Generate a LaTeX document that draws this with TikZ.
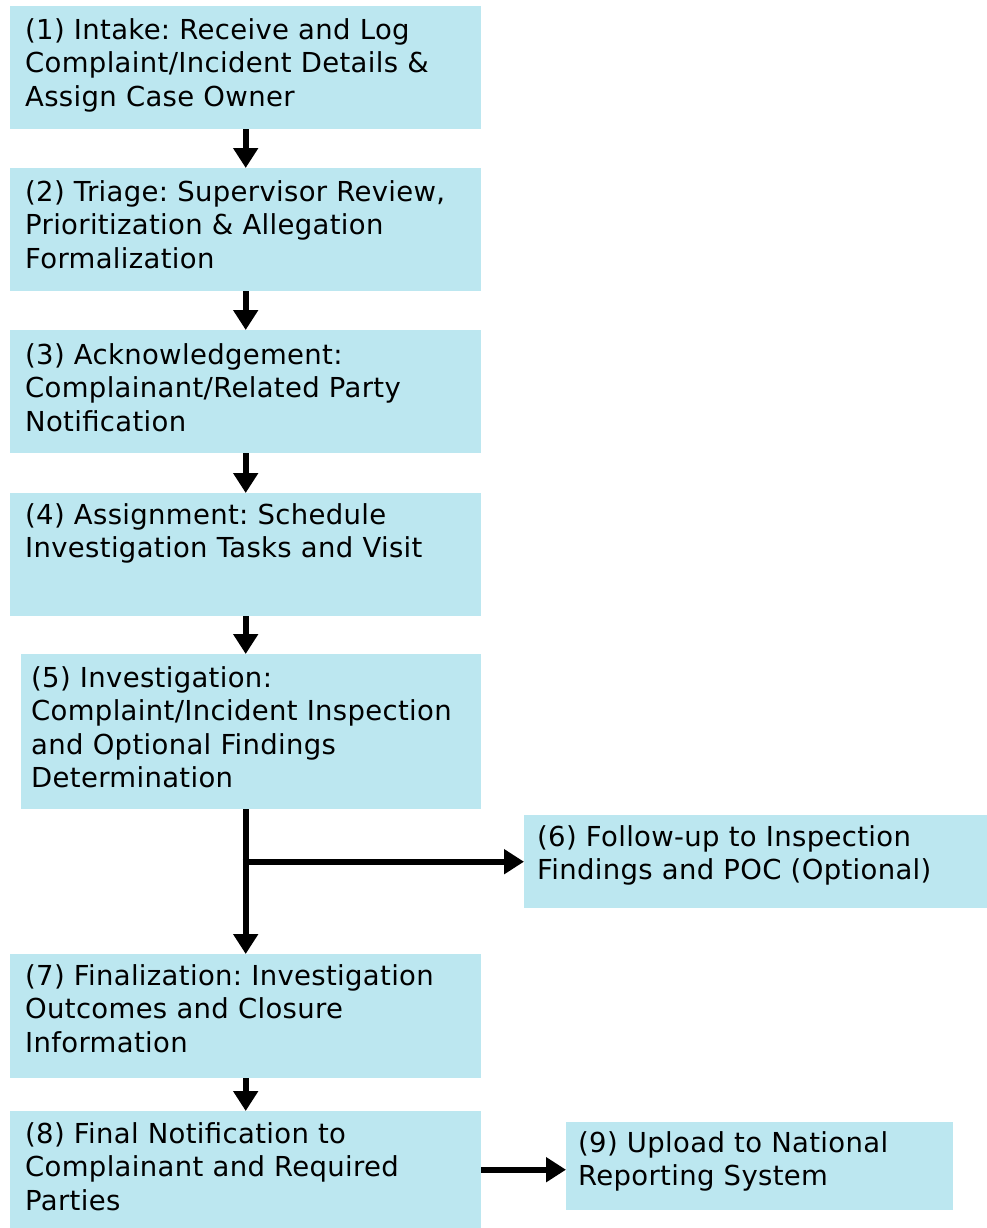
\documentclass[tikz,border=0pt]{standalone}
\usepackage{fontspec}
\setmainfont{DejaVu Sans}[LetterSpace=1.2]
\usetikzlibrary{arrows.meta}
\definecolor{boxblue}{RGB}{188,231,240}
\tikzset{
	stepbox/.style={fill=boxblue, anchor=north west, inner xsep=15pt, inner ysep=0pt, align=left, text height=33pt, font=\fontsize{27.5}{33.5}\selectfont\frenchspacing},
	flow/.style={line width=6pt, -{Triangle[length=20pt,width=24pt]}}
}

\begin{document}
\begin{tikzpicture}[x=1pt, y=-1pt]
			%%%%% START %%%%%
			\useasboundingbox (0, 0) rectangle (987, 1228);
			
			\node[stepbox, text width=441pt, text depth=90pt] (b1) at (10, 6) {(1) Intake: Receive and Log\\Complaint/Incident Details \&\\Assign Case Owner};
			\node[stepbox, text width=441pt, text depth=90pt] (b2) at (10, 168) {(2) Triage: Supervisor Review,\\Prioritization \& Allegation\\Formalization};
			\node[stepbox, text width=441pt, text height=34pt, text depth=89pt] (b3) at (10, 330) {(3) Acknowledgement:\\Complainant/Related Party\\Notification};
			\node[stepbox, text width=441pt, text height=31pt, text depth=92pt] (b4) at (10, 493) {(4) Assignment: Schedule\\Investigation Tasks and Visit};
			\node[stepbox, inner xsep=10pt, text width=440pt, text height=33pt, text depth=122pt] (b5) at (21, 654) {(5) Investigation:\\Complaint/Incident Inspection\\and Optional Findings\\Determination};
			\node[stepbox, inner xsep=13pt, text width=437pt, text height=31pt, text depth=62pt] (b6) at (524, 815) {(6) Follow-up to Inspection\\Findings and POC (Optional)};
			\node[stepbox, text width=441pt, text height=31pt, text depth=93pt] (b7) at (10, 954) {(7) Finalization: Investigation\\Outcomes and Closure\\Information};
			\node[stepbox, text width=441pt, text height=32pt, text depth=85pt] (b8) at (10, 1111) {(8) Final Notification to\\Complainant and Required\\Parties};
			\node[stepbox, inner xsep=12pt, text width=363pt, text height=30pt, text depth=58pt] (b9) at (566, 1122) {(9) Upload to National\\Reporting System};
			
			\draw[flow] (b1.south) -- (b2.north);
			\draw[flow] (b2.south) -- (b3.north);
			\draw[flow] (b3.south) -- (b4.north);
			\draw[flow] (b4.south) -- (b4.south |- b5.north);
			\draw[flow] (b7.north |- b5.south) -- (b7.north);
			
			\coordinate (fork) at (b7.north |- b6.west);
			\draw[flow] ([xshift=-3pt]fork) -- (b6.west);
			
			\draw[flow] (b7.south) -- (b8.north);
			\draw[flow] (b8.east) -- (b8.east -| b9.west);
			%%%%% END %%%%%
\end{tikzpicture}
\end{document}
